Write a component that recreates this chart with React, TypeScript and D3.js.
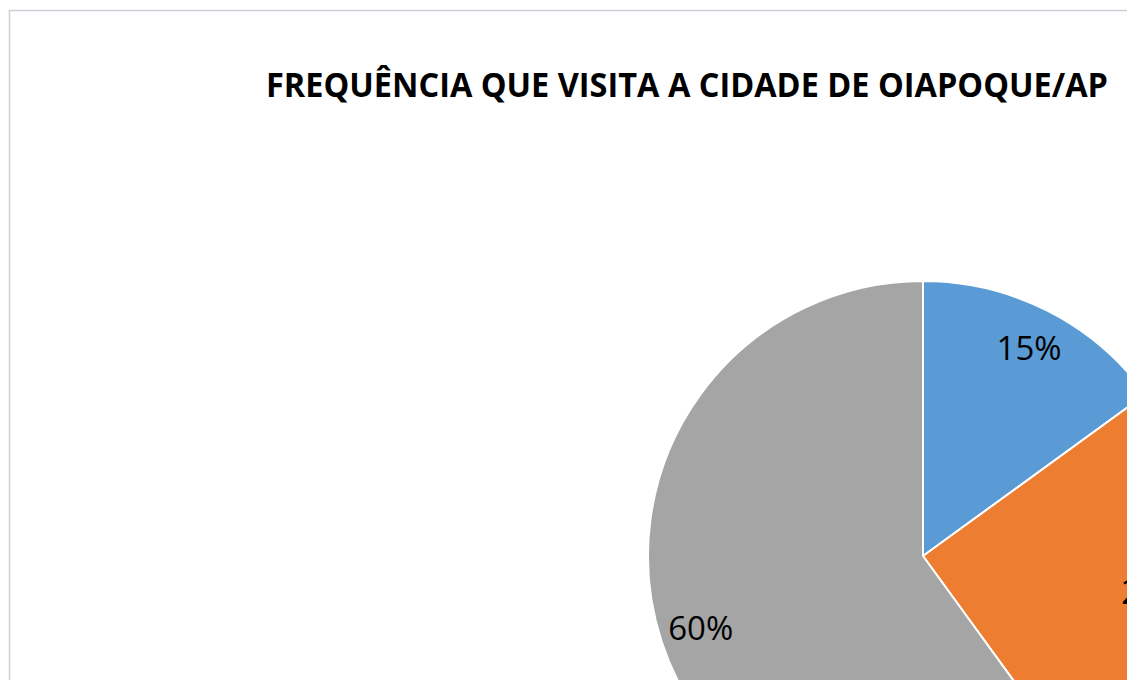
import React from "react";
import * as d3 from "d3";

const title = "FREQUÊNCIA QUE VISITA A CIDADE DE OIAPOQUE/AP";
const sliceValues = [15, 25, 60];
const sliceColors = ["#5B9BD5", "#ED7D31", "#A5A5A5"];

const W = 1127;
const H = 680;

const App = () => {
    const cx = 923;
    const cy = 556;
    const radius = 275;

    // slices go clockwise from 12 o'clock, in data order
    const pie = d3.pie<number>().sort(null).value(d => d).startAngle(0).endAngle(2 * Math.PI);
    const arcs = pie(sliceValues);
    const arc = d3.arc<d3.PieArcDatum<number>>().innerRadius(0).outerRadius(radius);
    const labelArc = d3.arc<d3.PieArcDatum<number>>().innerRadius(radius * 0.85).outerRadius(radius * 0.85);
    const total = d3.sum(sliceValues);

    return (
        <div style={{ position: "fixed", left: 0, top: 0, width: W, height: H, overflow: "hidden", background: "#fff" }}>
            <svg width={W} height={H} viewBox={`0 0 ${W} ${H}`} style={{ display: "block" }}>
                {/* chart frame */}
                <rect x={9.5} y={10.5} width={W + 20} height={H + 20} fill="#fff" stroke="#CBD0D8" strokeWidth={1.5} />

                {/* Title */}
                <text
                    x={687}
                    y={97}
                    textAnchor="middle"
                    textLength={842}
                    lengthAdjust="spacingAndGlyphs"
                    style={{ fontFamily: "'Open Sans', sans-serif", fontWeight: 700, fontSize: "34px", fill: "#000" }}
                >
                    {title}
                </text>

                {/* Slices */}
                <g transform={`translate(${cx},${cy})`}>
                    {arcs.map((a, i) => (
                        <path key={i} d={arc(a) || ""} fill={sliceColors[i]} stroke="#fff" strokeWidth={2} strokeLinejoin="round" />
                    ))}
                    {arcs.map((a, i) => {
                        const [lx, ly] = labelArc.centroid(a);
                        return (
                            <text
                                key={i}
                                x={lx}
                                y={ly}
                                dy="0.36em"
                                textAnchor="middle"
                                style={{ fontFamily: "'Open Sans', sans-serif", fontSize: "33px", fill: "#000" }}
                            >
                                {d3.format(".0%")(a.data / total)}
                            </text>
                        );
                    })}
                </g>
            </svg>
        </div>
    );
};

export default App;
